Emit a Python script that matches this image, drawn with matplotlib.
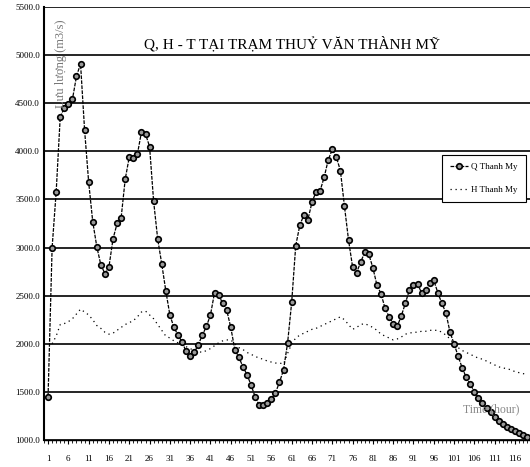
import numpy as np
import matplotlib
matplotlib.use("Agg")
import matplotlib.pyplot as plt
from matplotlib.ticker import FixedLocator, MultipleLocator, FuncFormatter

title = "Q, H - T TẠI TRẠM THUỶ VĂN THÀNH MỸ"
ylabel = "Lưu lượng (m3/s)"
xlabel = "Time (hour)"
legend_labels = ["Q Thanh My", "H Thanh My"]

hours = list(range(1, 120))

q_thanh_my = [
    1450, 3000, 3580, 4360, 4450, 4490, 4540, 4780, 4910, 4220,
    3680, 3270, 3010, 2820, 2730, 2800, 3090, 3250, 3310, 3710,
    3940, 3930, 3970, 4200, 4180, 4050, 3480, 3090, 2830, 2550,
    2300, 2170, 2090, 2020, 1920, 1870, 1910, 1990, 2090, 2180,
    2300, 2530, 2510, 2420, 2350, 2170, 1940, 1860, 1760, 1680,
    1570, 1450, 1360, 1360, 1385, 1425, 1490, 1600, 1730, 2010,
    2430, 3020, 3230, 3340, 3290, 3470, 3580, 3590, 3730, 3910,
    4020, 3940, 3800, 3430, 3080, 2800, 2740, 2850, 2950, 2930,
    2790, 2610, 2520, 2370, 2280, 2210, 2180, 2290, 2420, 2560,
    2610, 2620, 2530, 2560, 2630, 2660, 2530, 2420, 2320, 2120,
    2000, 1870, 1750, 1650, 1580, 1500, 1440, 1380, 1330, 1290,
    1240, 1200, 1170, 1140, 1110, 1090, 1070, 1050, 1030,
]

h_thanh_my = [
    np.nan, 2000, 2080, 2200, 2210, 2230, 2260, 2310, 2360, 2330,
    2300, 2250, 2190, 2160, 2120, 2100, 2110, 2140, 2170, 2200,
    2220, 2240, 2280, 2330, 2340, 2300, 2260, 2200, 2140, 2080,
    2060, 2030, 2010, 1990, 1970, 1950, 1930, 1920, 1910, 1930,
    1950, 1980, 2010, 2030, 2040, 2040, 2000, 1960, 1940, 1910,
    1890, 1870, 1850, 1840, 1820, 1810, 1800, 1800, 1790, 1900,
    2000, 2060, 2090, 2110, 2130, 2150, 2160, 2180, 2200, 2220,
    2240, 2260, 2280, 2250, 2200, 2150, 2170, 2200, 2210, 2190,
    2170, 2140, 2100, 2080, 2060, 2040, 2050, 2070, 2100, 2110,
    2120, 2120, 2130, 2130, 2140, 2140, 2140, 2120, 2090, 2050,
    2000, 1960, 1930, 1910, 1890, 1870, 1850, 1840, 1820, 1800,
    1780, 1760, 1750, 1740, 1730, 1710, 1700, 1690, 1680,
]

y_ticks = [1000, 1500, 2000, 2500, 3000, 3500, 4000, 4500, 5000, 5500]
x_ticks = list(range(1, 117, 5))

W, H = 530, 467
fig = plt.figure(figsize=(W / 100, H / 100), dpi=100)
ax = fig.add_axes([44 / W, 1 - 440 / H, (530 - 44) / W, (440 - 7) / H])

h_line, = ax.plot(hours, h_thanh_my, color="black", linestyle=(0, (1, 3)), linewidth=0.9,
                  label=legend_labels[1], zorder=2)
q_line, = ax.plot(hours, q_thanh_my, color="black", linewidth=0.9, linestyle=(0, (3, 1)),
                  marker="o", markersize=4, markerfacecolor="#999999", markeredgecolor="black",
                  markeredgewidth=1.2, label=legend_labels[0], zorder=3)

ax.set_xlim(0.0, 119.7)
ax.set_ylim(1000, 5500)
ax.yaxis.set_major_locator(FixedLocator(y_ticks))
ax.yaxis.set_major_formatter(FuncFormatter(lambda v, p: f"{v:.1f}"))
ax.xaxis.set_major_locator(FixedLocator(x_ticks))
ax.xaxis.set_minor_locator(MultipleLocator(1))
ax.grid(axis="y", color="black", linewidth=1.2)
ax.set_axisbelow(True)

for s in ["top", "right"]:
    ax.spines[s].set_visible(False)
ax.spines["left"].set_linewidth(1.5)
ax.spines["bottom"].set_linewidth(1.0)
ax.spines["bottom"].set_linestyle((0, (2, 1)))

ax.tick_params(axis="y", labelsize=6.5, length=0, pad=3)
ax.tick_params(axis="x", which="major", labelsize=6.5, length=3, pad=8)
ax.tick_params(axis="x", which="minor", length=2)
for lab in ax.get_xticklabels() + ax.get_yticklabels():
    lab.set_family("Liberation Serif")

ax.text(0.51, 0.915, title, transform=ax.transAxes, ha="center", va="center",
        fontsize=11, family="Liberation Serif")
ax.text(0.034, 0.87, ylabel, transform=ax.transAxes, ha="center", va="center",
        rotation=90, fontsize=9, color="#777777", family="Liberation Serif")
ax.text(0.92, 0.07, xlabel, transform=ax.transAxes, ha="center", va="center",
        fontsize=8.5, color="#888888", family="Liberation Serif")

leg = ax.legend(handles=[q_line, h_line], loc="upper left",
                bbox_to_anchor=((437 - 44) / 486, (440 - 150) / 433),
                frameon=True, fancybox=False, edgecolor="black",
                framealpha=1, borderpad=0.9, labelspacing=1.6, handlelength=2.0,
                handletextpad=0.4, prop={"family": "Liberation Serif", "size": 6.5})
leg.get_frame().set_linewidth(0.8)

fig.savefig("out.png", dpi=100)
